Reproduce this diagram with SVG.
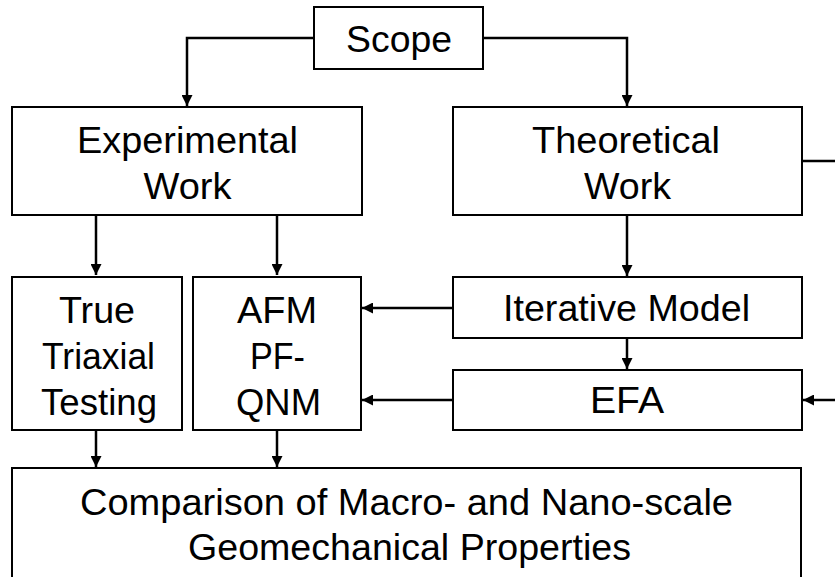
<svg xmlns="http://www.w3.org/2000/svg" width="835" height="577" viewBox="0 0 835 577">
<style>
.box{fill:#fff;stroke:#000;stroke-width:2}
.t{font-family:"Liberation Sans",Arial,sans-serif;font-size:36px;fill:#000;text-anchor:middle}
.c{fill:none;stroke:#000;stroke-width:2.5}
</style>
<defs>
<marker id="ah" viewBox="0 0 10 10" refX="10" refY="5" markerWidth="4.4" markerHeight="4.4" markerUnits="strokeWidth" orient="auto">
<path d="M0,0 L10,5 L0,10 z" fill="#000"/>
</marker>
</defs>
<rect width="835" height="577" fill="#fff"/>
<g id="connectors">
<path class="c" d="M314,38 H187 V106" marker-end="url(#ah)"/>
<path class="c" d="M483,38 H627 V106" marker-end="url(#ah)"/>
<path class="c" d="M96,215 V275" marker-end="url(#ah)"/>
<path class="c" d="M277,215 V275" marker-end="url(#ah)"/>
<path class="c" d="M627,215 V276" marker-end="url(#ah)"/>
<path class="c" d="M627,338 V369" marker-end="url(#ah)"/>
<path class="c" d="M453,308 H362" marker-end="url(#ah)"/>
<path class="c" d="M453,400 H362" marker-end="url(#ah)"/>
<path class="c" d="M802,161 H835"/>
<path class="c" d="M835,400 H803" marker-end="url(#ah)"/>
<path class="c" d="M96,430 V467" marker-end="url(#ah)"/>
<path class="c" d="M277,430 V467" marker-end="url(#ah)"/>
</g>
<g id="scope">
<rect class="box" x="314" y="7" width="169" height="62"/>
<text class="t" x="399" y="52" textLength="106" lengthAdjust="spacingAndGlyphs">Scope</text>
</g>
<g id="experimental">
<rect class="box" x="12" y="107" width="350" height="108"/>
<text class="t" x="187.5" y="153" textLength="221" lengthAdjust="spacingAndGlyphs">Experimental</text>
<text class="t" x="187.5" y="199" textLength="88" lengthAdjust="spacingAndGlyphs">Work</text>
</g>
<g id="theoretical">
<rect class="box" x="453" y="107" width="349" height="108"/>
<text class="t" x="626" y="153" textLength="188" lengthAdjust="spacingAndGlyphs">Theoretical</text>
<text class="t" x="627.5" y="199" textLength="87" lengthAdjust="spacingAndGlyphs">Work</text>
</g>
<g id="triaxial">
<rect class="box" x="12" y="277" width="170" height="153"/>
<text class="t" x="97" y="323" textLength="76" lengthAdjust="spacingAndGlyphs">True</text>
<text class="t" x="98.5" y="369" textLength="113" lengthAdjust="spacingAndGlyphs">Triaxial</text>
<text class="t" x="99" y="415" textLength="116" lengthAdjust="spacingAndGlyphs">Testing</text>
</g>
<g id="afm">
<rect class="box" x="193" y="277" width="168" height="153"/>
<text class="t" x="277" y="323" textLength="80" lengthAdjust="spacingAndGlyphs">AFM</text>
<text class="t" x="277.5" y="369" textLength="55" lengthAdjust="spacingAndGlyphs">PF-</text>
<text class="t" x="278.5" y="415" textLength="85" lengthAdjust="spacingAndGlyphs">QNM</text>
</g>
<g id="iterative">
<rect class="box" x="453" y="277" width="349" height="61"/>
<text class="t" x="626.5" y="321" textLength="247" lengthAdjust="spacingAndGlyphs">Iterative Model</text>
</g>
<g id="efa">
<rect class="box" x="453" y="370" width="349" height="60"/>
<text class="t" x="627" y="413" textLength="74" lengthAdjust="spacingAndGlyphs">EFA</text>
</g>
<g id="comparison">
<rect class="box" x="12" y="468" width="789" height="120"/>
<text class="t" x="406.5" y="515" textLength="653" lengthAdjust="spacingAndGlyphs">Comparison of Macro- and Nano-scale</text>
<text class="t" x="409.5" y="560" textLength="443" lengthAdjust="spacingAndGlyphs">Geomechanical Properties</text>
</g>
</svg>
